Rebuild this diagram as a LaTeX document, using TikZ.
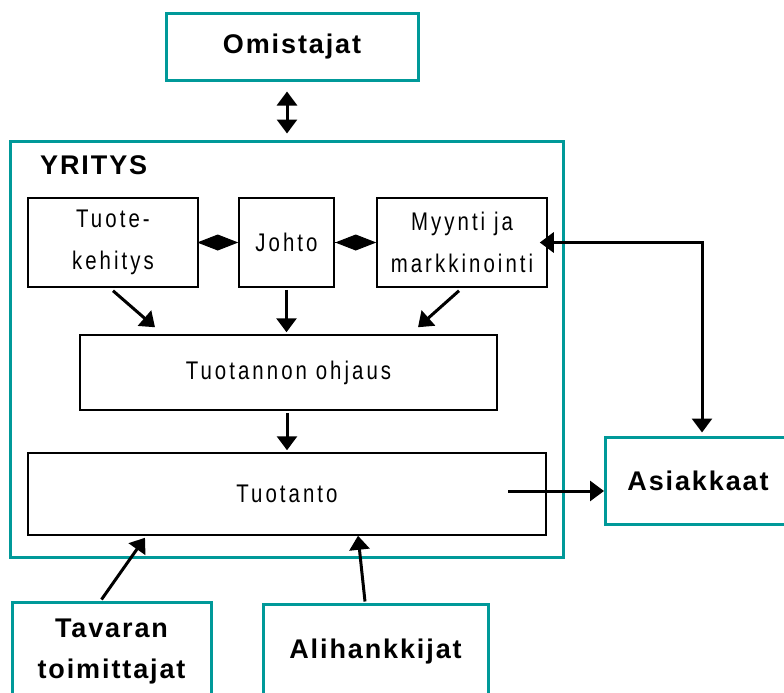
\documentclass[tikz,border=0pt]{standalone}
\usepackage{fontspec}
\usetikzlibrary{arrows.meta,calc}
\setmainfont{Liberation Sans}
\newfontfamily\labfont[LetterSpace=7]{Liberation Sans}
\newfontfamily\innerfont[FakeStretch=0.8,LetterSpace=12]{Liberation Sans}
\definecolor{tealc}{RGB}{0,153,153}
\tikzset{
  tealbox/.style={draw=tealc, line width=3pt, inner sep=0pt, align=center,
     font=\labfont\bfseries\fontsize{27}{41}\selectfont},
  inbox/.style={draw=black, line width=1.5pt, inner sep=0pt, align=center,
     font=\innerfont\fontsize{25.5}{42}\selectfont},
  arr/.style={line width=3pt, -{Triangle[length=14pt 0,width=20pt 0]}},
  dblarr/.style={line width=3pt, {Triangle[length=14pt 0,width=20pt 0]}-{Triangle[length=14pt 0,width=20pt 0]}},
  dia/.style={line width=1pt, -{Diamond[length=41pt 0,width=16pt 0]}},
}
\begin{document}
\begin{tikzpicture}[x=1pt,y=-1pt]
\useasboundingbox (0,0) rectangle (784,693);
\clip (0,0) rectangle (784,693);
\fill[white] (0,0) rectangle (784,693);
% outer nodes
\node[tealbox, minimum width=252, minimum height=66] (om) at (292,47) {Omistajat};
\node[draw=tealc, line width=3pt, minimum width=553, minimum height=416, inner sep=0pt] (yr) at (286.5,349) {};
\node[font=\labfont\bfseries\fontsize{27}{30}\selectfont, anchor=west, inner sep=0pt] (yrl) at (40,165) {YRITYS};
\node[tealbox, minimum width=185, minimum height=87] (as) at (698,480.5) {Asiakkaat};
\node[tealbox, minimum width=199, minimum height=100] (tv) at (111.5,652) {Tavaran\\toimittajat};
\node[tealbox, minimum width=225, minimum height=95] (al) at (375.5,651.5) {Alihankkijat};
% inner nodes
\node[inbox, minimum width=170, minimum height=89] (tk) at (113,242.5) {\raisebox{-3pt}{Tuote-}\\\raisebox{-3pt}{kehitys}};
\node[inbox, minimum width=95, minimum height=89] (jo) at (286.5,242.5) {Johto};
\node[inbox, minimum width=170, minimum height=89] (my) at (462,242.5) {\raisebox{-3pt}{Myynti ja}\\\raisebox{-3pt}{markkinointi}};
\node[inbox, minimum width=417, minimum height=75] (oh) at (288.5,372.5) {Tuotannon ohjaus};
\node[inbox, minimum width=518, minimum height=82] (tu) at (287,494) {Tuotanto};
% connectors
\draw[dblarr] ([shift={(-5,10)}]om.south) -- ([shift={(0.5,-6)}]yr.north);
\draw[dia] (tk.east) -- (jo.west);
\draw[dia] (jo.east) -- (my.west);
\draw[arr] ([shift={(0,3)}]tk.south) -- ([shift={(-133.5,-7)}]oh.north);
\draw[arr] ([shift={(0,2)}]jo.south) -- ($(jo.south |- oh.north)+(0,-2)$);
\draw[arr] ([shift={(-3,3)}]my.south) -- ([shift={(129.5,-7)}]oh.north);
\draw[arr] ([shift={(-1.5,2)}]oh.south) -- ([shift={(0,-2)}]tu.north);
\draw[arr] ([shift={(221,-3)}]tu.center) -- ([shift={(0,10.5)}]as.west);
\draw[dblarr] ([shift={(-8,0)}]my.east) -| ([shift={(4,-3)}]as.north);
\draw[arr] ([shift={(-10,-1)}]tv.north) -- ([shift={(-142,2)}]tu.south);
\draw[arr] ([shift={(-10.5,-1)}]al.north) -- ([shift={(71,0)}]tu.south);
\end{tikzpicture}
\end{document}
